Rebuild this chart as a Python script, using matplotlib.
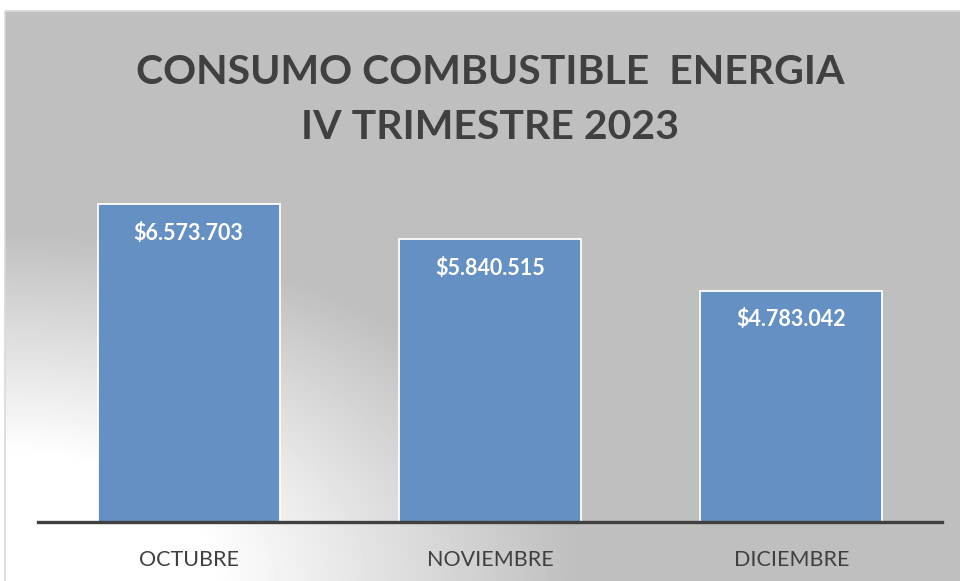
import numpy as np
import matplotlib
matplotlib.use("Agg")
import matplotlib.pyplot as plt

# datos del grafico
meses = ["OCTUBRE", "NOVIEMBRE", "DICIEMBRE"]
consumo = [6573703, 5840515, 4783042]
etiquetas = ["$6.573.703", "$5.840.515", "$4.783.042"]

titulo = "CONSUMO COMBUSTIBLE  ENERGIA\nIV TRIMESTRE 2023"

plt.rcParams['font.family'] = ['Lato', 'DejaVu Sans']

W, H = 960, 581
fig = plt.figure(figsize=(W / 100, H / 100), dpi=100)

# fondo con degradado desde la esquina inferior izquierda
bg = fig.add_axes([0, 0, 1, 1], zorder=0)
yy, xx = np.mgrid[0:H, 0:W]
t = np.sqrt((xx / 960.0) ** 2 + ((H - yy) / 581.0) ** 2)
t = np.clip((t - 0.22) / (0.60 - 0.22), 0, 1)
gris = 191 / 255.0
img = 1.0 - (1.0 - gris) * t
img[:11, :] = 1.0
img[:, :5] = 1.0
bg.imshow(img, cmap="gray", vmin=0, vmax=1, aspect="auto",
          extent=(0, W, H, 0), interpolation="bilinear")
bg.plot([5, 5, W], [H, 11, 11], color="#D9D9D9", lw=1.2)
bg.set_xlim(0, W)
bg.set_ylim(H, 0)
bg.axis("off")

# area del grafico
ax = fig.add_axes([38 / W, (H - 522) / H, (942 - 38) / W, (522 - 150) / H], zorder=1)
ax.patch.set_alpha(0)
x = np.arange(len(meses))
ax.bar(x, consumo, width=0.605, color="#6590C3", edgecolor="white", linewidth=1.3, zorder=2)

for i, v in enumerate(consumo):
    ax.annotate(etiquetas[i], (x[i], v), xytext=(0, -21), textcoords="offset points",
                ha="center", va="center", color="white", fontsize=15.5, fontweight="bold")

ax.set_xlim(-0.5, len(meses) - 0.5)
ax.set_ylim(0, 7.69e6)
ax.set_xticks(x)
ax.set_xticklabels(meses, fontsize=15.5, color="#404040")
ax.tick_params(axis="x", length=0, pad=20)
ax.set_yticks([])
for s in ["top", "right", "left"]:
    ax.spines[s].set_visible(False)
ax.spines["bottom"].set_color("#404040")
ax.spines["bottom"].set_linewidth(2.4)
ax.spines["bottom"].set_zorder(3)

fig.text(490 / W, 1 - 100 / H, titulo, ha="center", va="center", fontsize=29.5,
         fontweight="bold", color="#404040", linespacing=1.6, zorder=2)

fig.savefig("out.png", dpi=100)
